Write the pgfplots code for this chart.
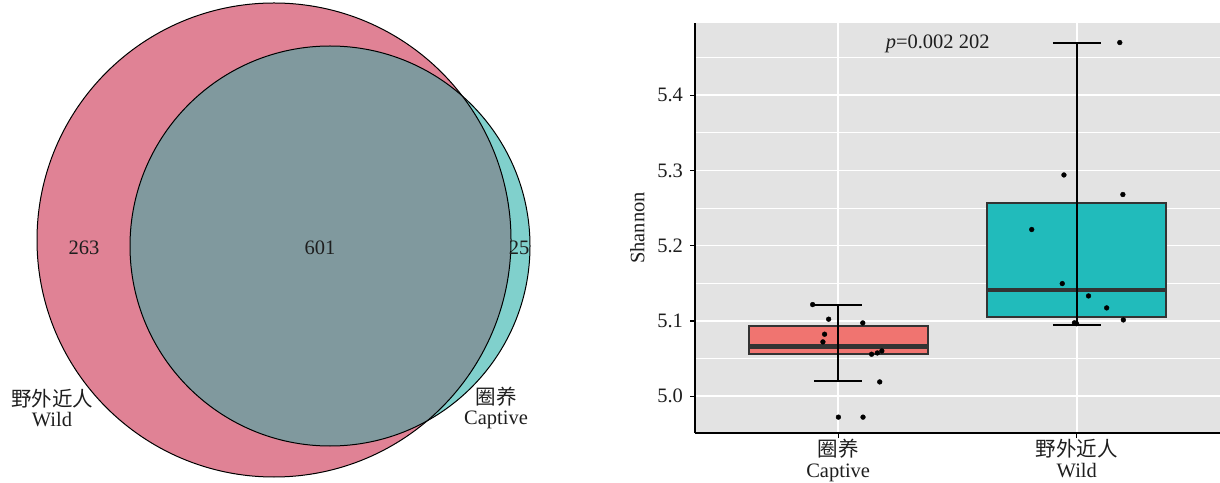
\documentclass[border=0pt]{standalone}
\usepackage{fontspec}
\setmainfont{Liberation Serif}
\newfontfamily\cjk{Noto Sans CJK SC}
\usepackage{pgfplots}
\pgfplotsset{compat=1.18}
\definecolor{wildpink}{RGB}{224,130,149}
\definecolor{captteal}{RGB}{128,208,204}
\definecolor{overlapc}{RGB}{128,153,158}
\definecolor{panel}{RGB}{227,227,227}
\definecolor{boxred}{RGB}{240,116,112}
\definecolor{boxteal}{RGB}{33,187,187}
\definecolor{boxline}{RGB}{51,51,51}
\definecolor{txt}{RGB}{30,30,30}
\begin{document}
\fontsize{20.5}{22}\selectfont
\begin{tikzpicture}[x=1pt,y=1pt]
\path[use as bounding box] (0,0) rectangle (1220,482);
% ---------------- Venn diagram ----------------
\begin{axis}[at={(0pt,0pt)}, anchor=south west, width=560pt, height=482pt, scale only axis,
  xmin=0, xmax=560, ymin=0, ymax=482, hide axis, clip=false]
\fill[wildpink] (axis cs:274,242) circle[radius=237];
\fill[captteal] (axis cs:330,236) circle[radius=200];
\begin{scope}
\clip (axis cs:274,242) circle[radius=237];
\fill[overlapc] (axis cs:330,236) circle[radius=200];
\end{scope}
\draw[black, line width=1pt] (axis cs:274,242) circle[radius=237];
\draw[black, line width=1pt] (axis cs:330,236) circle[radius=200];
\node[text=txt] at (axis cs:84,234) {263};
\node[text=txt] at (axis cs:320,234) {601};
\node[text=txt] at (axis cs:519,234) {25};
\node[text=txt, align=center] at (axis cs:52,74) {{\cjk 野外近人}\\[-2pt]Wild};
\node[text=txt, align=center] at (axis cs:496,74) {{\cjk 圈养}\\[-2pt]Captive};
\end{axis}
% ---------------- Box plot ----------------
\begin{axis}[at={(695pt,49pt)}, anchor=south west, width=525pt, height=410pt, scale only axis,
  xmin=0.4, xmax=2.6, ymin=4.951, ymax=5.496,
  axis background/.style={fill=panel},
  axis x line*=bottom, axis y line*=left,
  axis line style={black, line width=1.5pt},
  xtick={1,2}, xticklabels={{\cjk 圈养}\\[-1pt]Captive,{\cjk 野外近人}\\[-1pt]Wild},
  xticklabel style={align=center, text=txt, inner sep=1pt},
  ytick={5.0,5.1,5.2,5.3,5.4},
  minor ytick={5.05,5.15,5.25,5.35,5.45},
  yticklabel style={text=txt},
  yticklabel style={/pgf/number format/.cd, fixed, fixed zerofill, precision=1, assume math mode=true},
  tick align=outside, major tick length=5pt, minor tick length=0pt,
  tick style={black, line width=1.2pt},
  xmajorgrids, ymajorgrids, yminorgrids,
  major grid style={white, line width=1.6pt},
  minor grid style={white, line width=0.8pt},
  ylabel={Shannon}, ylabel style={at={(axis description cs:-0.11,0.5)}, anchor=center, text=txt},
  clip=false]
% Captive box
\addplot[fill=boxred, draw=boxline, line width=2pt] coordinates {(0.625,5.0565) (1.375,5.0565) (1.375,5.0934) (0.625,5.0934)} -- cycle;
\addplot[boxline, line width=4.5pt] coordinates {(0.625,5.0658) (1.375,5.0658)};
% Wild box
\addplot[fill=boxteal, draw=boxline, line width=2pt] coordinates {(1.625,5.1057) (2.375,5.1057) (2.375,5.2565) (1.625,5.2565)} -- cycle;
\addplot[boxline, line width=4.5pt] coordinates {(1.625,5.1412) (2.375,5.1412)};
% error bars
\addplot[black, line width=2pt] coordinates {(1,5.0202) (1,5.1213)};
\addplot[black, line width=2pt] coordinates {(0.9,5.0202) (1.1,5.0202)};
\addplot[black, line width=2pt] coordinates {(0.9,5.1213) (1.1,5.1213)};
\addplot[black, line width=2pt] coordinates {(2,5.095) (2,5.470)};
\addplot[black, line width=2pt] coordinates {(1.9,5.095) (2.1,5.095)};
\addplot[black, line width=2pt] coordinates {(1.9,5.470) (2.1,5.470)};
% jittered points
\addplot[only marks, mark=*, mark size=2.4pt, black] coordinates {
 (0.893,5.1217) (0.960,5.1023) (1.103,5.0973) (0.943,5.0823) (0.936,5.0721)
 (1.140,5.0557) (1.164,5.0574) (1.183,5.0601) (1.174,5.0189) (1.001,4.9721) (1.104,4.9721)};
\addplot[only marks, mark=*, mark size=2.4pt, black] coordinates {
 (2.180,5.470) (1.946,5.294) (2.193,5.268) (1.811,5.2215) (1.939,5.1496)
 (2.049,5.1332) (2.125,5.1173) (2.195,5.1013) (1.999,5.0963) (1.990,5.0975)};
\node[text=txt] at (axis cs:1.417,5.468) {\textit{p}=0.002 202};
\end{axis}
\end{tikzpicture}
\end{document}
